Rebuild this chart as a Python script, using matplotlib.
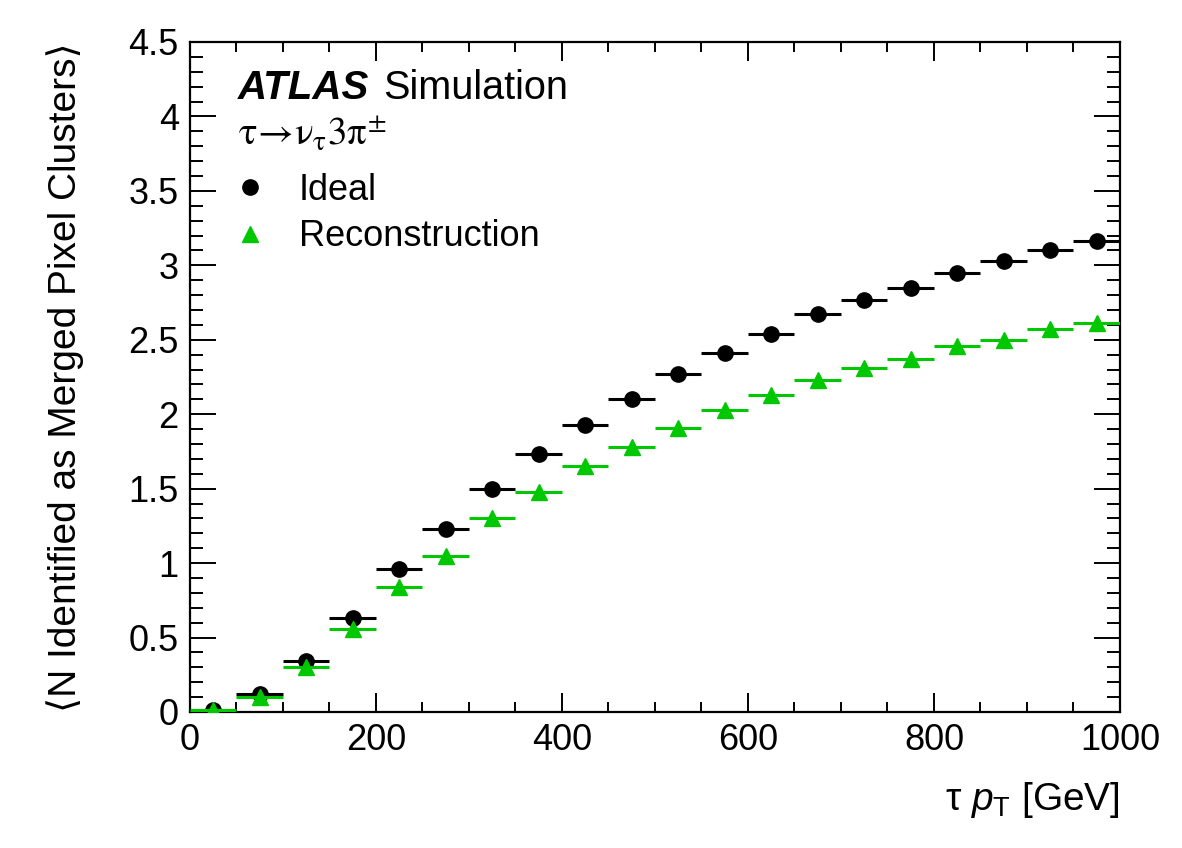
import numpy as np
import matplotlib
matplotlib.use("Agg")
from matplotlib import pyplot as plt
from matplotlib.lines import Line2D
from matplotlib.ticker import MultipleLocator

plt.rcParams['font.family'] = ['Liberation Sans', 'DejaVu Sans']
plt.rcParams['mathtext.fontset'] = 'custom'
plt.rcParams['mathtext.rm'] = 'Liberation Sans'
plt.rcParams['mathtext.it'] = 'Liberation Sans:italic'
plt.rcParams['mathtext.bf'] = 'Liberation Sans:bold'

# tau pT bins (GeV)
bin_lo = np.arange(0, 1000, 50)
bin_width = 50
ideal = [0.01, 0.12, 0.34, 0.63, 0.96, 1.23, 1.50, 1.73, 1.93, 2.10,
         2.27, 2.41, 2.54, 2.67, 2.77, 2.85, 2.95, 3.03, 3.10, 3.16]
reco = [0.01, 0.10, 0.30, 0.56, 0.84, 1.05, 1.30, 1.48, 1.65, 1.78,
        1.91, 2.03, 2.13, 2.23, 2.31, 2.37, 2.46, 2.50, 2.57, 2.61]

green = '#00c800'
x = bin_lo + bin_width / 2

fig = plt.figure(figsize=(11.82, 8.48), dpi=100)
ax = fig.add_axes([0.1607, 0.1604, 0.7868, 0.7901])

ax.errorbar(x, ideal, xerr=bin_width / 2, fmt='o', color='black', ms=11,
            elinewidth=2.2, capsize=0, zorder=3)
ax.errorbar(x, reco, xerr=bin_width / 2, fmt='^', color=green, ms=11,
            elinewidth=2.2, capsize=0, zorder=4)

ax.set_xlim(0, 1000)
ax.set_ylim(0, 4.5)
ax.xaxis.set_major_locator(MultipleLocator(200))
ax.xaxis.set_minor_locator(MultipleLocator(50))
ax.yaxis.set_minor_locator(MultipleLocator(0.1))
ax.set_yticks(np.arange(0, 4.51, 0.5))
ax.set_yticklabels(['0', '0.5', '1', '1.5', '2', '2.5', '3', '3.5', '4', '4.5'])

ax.tick_params(axis='both', which='both', direction='in', top=True, right=True,
               labelsize=26, width=1.4)
ax.tick_params(axis='x', which='major', length=14, pad=8)
ax.tick_params(axis='x', which='minor', length=7)
ax.tick_params(axis='y', which='major', length=19, pad=8)
ax.tick_params(axis='y', which='minor', length=9.5)
for s in ax.spines.values():
    s.set_linewidth(1.6)

ax.set_xlabel(r'$\mathrm{\tau}$ $\mathit{p}_{\mathrm{T}}$ [GeV]', fontsize=28,
              loc='right', labelpad=16)
ax.set_ylabel('\u27e8N Identified as Merged Pixel Clusters\u27e9', fontsize=28,
              loc='top', labelpad=32)

ax.text(0.052, 0.915, 'ATLAS', transform=ax.transAxes, fontsize=29,
        fontweight='bold', fontstyle='italic')
ax.text(0.208, 0.915, 'Simulation', transform=ax.transAxes, fontsize=28.5)
ax.text(0.052, 0.846, r'$\mathrm{\tau\!\rightarrow\!\nu_{\tau}3\pi^{\pm}}$',
        transform=ax.transAxes, fontsize=28, math_fontfamily='stix')

handles = [Line2D([], [], marker='o', ls='none', color='black', ms=11),
           Line2D([], [], marker='^', ls='none', color=green, ms=11)]
ax.legend(handles, ['Ideal', 'Reconstruction'], loc='upper left',
          bbox_to_anchor=(0.049, 0.805), frameon=False, fontsize=26,
          handletextpad=0.95, labelspacing=0.32, handlelength=0.8,
          borderaxespad=0, borderpad=0)

fig.savefig('out.png', dpi=100)
